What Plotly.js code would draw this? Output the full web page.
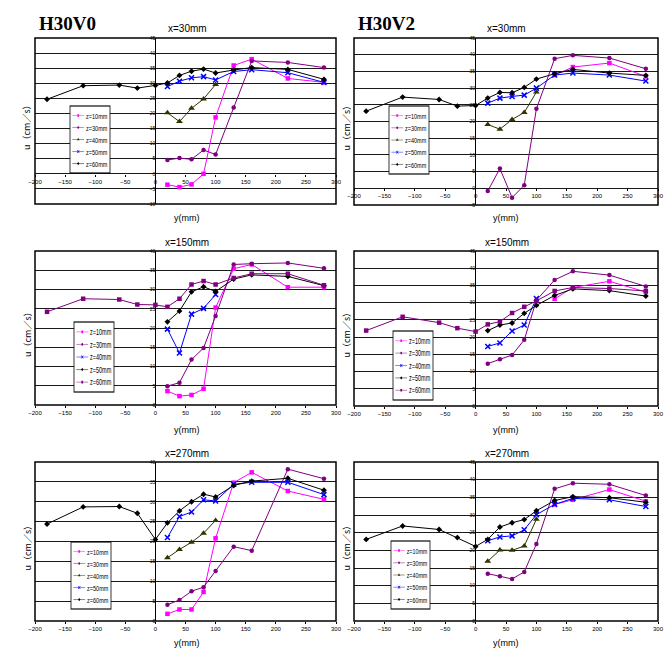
<!DOCTYPE html>
<html>
<head>
<meta charset="utf-8">
<script src="https://cdn.plot.ly/plotly-3.0.1.min.js"></script>
<style>html,body{margin:0;padding:0;background:#fff;}#chart{width:664px;height:648px;}</style>
</head>
<body>
<div id="chart"></div>
<script>
// ---- data ----
const yPosFull = [-180, -120, -60, -30, 0, 20, 40, 60, 80, 100, 130, 160, 220, 280];
const yPos = [20, 40, 60, 80, 100, 130, 160, 220, 280];
const yPosShort = [20, 40, 60, 80, 100];
const yPosTail = [130, 160, 220, 280];
const seriesNames = ["z=10mm", "z=30mm", "z=40mm", "z=50mm", "z=60mm"];
const panelTitles = ["x=30mm", "x=30mm", "x=150mm", "x=150mm", "x=270mm", "x=270mm"];
const caseLabels = ["H30V0", "H30V2"];

// H30V0, x=30mm
const v0x30_z10 = [-3.6, -4.4, -3.5, 0, 18.7, 35.9, 38.0, 31.6, 30.3];
const v0x30_z30 = [4.6, 5.2, 4.8, 7.9, 6.4, 22.0, 37.4, 36.9, 35.2];
const v0x30_z40 = [20.2, 17.3, 21.7, 24.8, 29.6];
const v0x30_z50 = [28.9, 30.7, 31.8, 32.2, 31.1, 33.9, 34.5, 33.5, 30.3];
const v0x30_z60 = [24.7, 29.2, 29.4, 28.4, 29.3, 30.1, 32.6, 34.0, 34.7, 33.4, 34.4, 35.2, 34.6, 31.3];
// H30V2, x=30mm
const v2x30_z10 = [33.9, 36.3, 37.5, 33.5];
const v2x30_z30 = [-0.8, 5.9, -2.8, 0.9, 23.8, 38.8, 39.8, 39.0, 35.8];
const v2x30_z40 = [19.1, 17.7, 20.6, 22.7, 28.8];
const v2x30_z50 = [25.5, 27.0, 27.5, 27.9, 30.0, 33.9, 34.5, 33.9, 32.1];
const v2x30_z60 = [23.1, 27.3, 26.6, 24.6, 24.8, 27.0, 28.7, 28.6, 30.2, 32.7, 34.3, 35.6, 34.5, 33.8];
// H30V0, x=150mm
const v0x150_z10 = [3.6, 2.3, 2.6, 4.2, 25.3, 35.4, 36.5, 30.6, 30.6];
const v0x150_z30 = [4.9, 5.8, 11.8, 14.8, 23.1, 36.5, 36.7, 36.9, 35.5];
const v0x150_z40 = [19.7, 13.5, 23.6, 25.1, 28.7];
const v0x150_z50 = [21.6, 24.4, 29.4, 30.7, 29.5, 32.7, 33.8, 33.4, 31.0];
const v0x150_z60 = [24.2, 27.6, 27.4, 26.1, 26.0, 25.5, 27.6, 31.3, 32.2, 31.3, 33.0, 34.1, 34.1, 31.1];
// H30V2, x=150mm
const v2x150_z10 = [31.1, 34.4, 36.2, 33.1];
const v2x150_z30 = [12.3, 13.6, 14.8, 19.2, 30.7, 36.6, 39.1, 38.0, 34.7];
const v2x150_z40 = [17.3, 18.3, 21.8, 23.5, 31.2];
const v2x150_z50 = [21.9, 23.5, 24.1, 26.9, 29.2, 32.1, 34.0, 33.5, 31.9];
const v2x150_z60 = [21.9, 25.9, 24.2, 22.6, 21.6, 23.7, 24.5, 27.0, 28.8, 30.5, 33.4, 34.4, 34.1, 33.4];
// H30V0, x=270mm
const v0x270_z10 = [1.8, 2.9, 2.9, 7.3, 20.8, 34.8, 37.4, 32.7, 30.6];
const v0x270_z30 = [4.1, 5.3, 7.5, 8.5, 12.6, 18.7, 17.7, 38.2, 35.8];
const v0x270_z40 = [15.9, 18.0, 19.8, 22.1, 25.3];
const v0x270_z50 = [21.0, 26.3, 27.4, 30.5, 30.2, 34.4, 34.9, 34.9, 31.8];
const v0x270_z60 = [24.4, 28.7, 28.8, 27.1, 20.5, 24.7, 27.7, 30.0, 31.9, 31.2, 34.1, 35.2, 35.9, 32.9];
// H30V2, x=270mm
const v2x270_z10 = [33.0, 34.3, 37.2, 33.9];
const v2x270_z30 = [13.4, 12.7, 11.9, 13.9, 21.8, 37.4, 39.0, 38.7, 35.5];
const v2x270_z40 = [16.9, 20.1, 20.0, 21.2, 28.8];
const v2x270_z50 = [22.7, 23.8, 24.1, 25.8, 30.1, 33.0, 34.7, 34.3, 32.4];
const v2x270_z60 = [23.1, 26.9, 25.9, 23.6, 21.1, 23.1, 26.6, 27.8, 28.7, 31.2, 34.1, 35.2, 34.9, 33.6];

// ---- styles ----
const W = 664, H = 648;
const MAG = {color: "#ff00ff", symbol: "square"};
const PUR = {color: "#800080", symbol: "circle"};
const OLI = {color: "#333300", symbol: "triangle-up"};
const BLU = {color: "#0000ff", symbol: "x-thin"};
const BLK = {color: "#000000", symbol: "diamond"};
const PUR2 = {color: "#800080", symbol: "square"};

const panels = [
  {x: [35, 336], y: [38, 204], range: [-10, 45], zeroY: 174, zeroX: 155.4, legendBox: [70, 106, 40, 67],
   series: [[yPos, v0x30_z10, MAG], [yPos, v0x30_z30, PUR], [yPosShort, v0x30_z40, OLI], [yPos, v0x30_z50, BLU], [yPosFull, v0x30_z60, BLK]]},
  {x: [354, 658], y: [38, 205], range: [-5, 45], zeroY: 188, zeroX: 475, legendBox: [389, 106, 40, 68],
   series: [[yPosTail, v2x30_z10, MAG], [yPos, v2x30_z30, PUR], [yPosShort, v2x30_z40, OLI], [yPos, v2x30_z50, BLU], [yPosFull, v2x30_z60, BLK]]},
  {x: [35, 336], y: [251, 405], range: [0, 40], zeroY: 405, zeroX: 155.4, legendBox: [74, 322, 40, 70],
   series: [[yPos, v0x150_z10, MAG], [yPos, v0x150_z30, PUR], [yPosShort, v0x150_z40, BLU], [yPos, v0x150_z50, BLK], [yPosFull, v0x150_z60, PUR2]]},
  {x: [354, 658], y: [251, 406], range: [0, 45], zeroY: 406, zeroX: 475, legendBox: [393, 331, 40, 69],
   series: [[yPosTail, v2x150_z10, MAG], [yPos, v2x150_z30, PUR], [yPosShort, v2x150_z40, BLU], [yPos, v2x150_z50, BLK], [yPosFull, v2x150_z60, PUR2]]},
  {x: [35, 336], y: [462, 621], range: [0, 40], zeroY: 621, zeroX: 155.4, legendBox: [71, 542, 40, 67],
   series: [[yPos, v0x270_z10, MAG], [yPos, v0x270_z30, PUR], [yPosShort, v0x270_z40, OLI], [yPos, v0x270_z50, BLU], [yPosFull, v0x270_z60, BLK]]},
  {x: [354, 658], y: [462, 621], range: [0, 45], zeroY: 621, zeroX: 475, legendBox: [391, 541, 39, 68],
   series: [[yPosTail, v2x270_z10, MAG], [yPos, v2x270_z30, PUR], [yPosShort, v2x270_z40, OLI], [yPos, v2x270_z50, BLU], [yPosFull, v2x270_z60, BLK]]}
];

const FONT = "Liberation Sans Narrow, Liberation Sans, Arial, sans-serif";
const px2x = p => p / W;
const px2y = p => 1 - p / H;

const traces = [];
const layout = {
  width: W, height: H,
  margin: {l: 0, r: 0, t: 0, b: 0},
  paper_bgcolor: "#ffffff", plot_bgcolor: "#ffffff",
  font: {family: FONT, color: "#000"},
  showlegend: true,
  shapes: [], annotations: []
};

panels.forEach((p, i) => {
  const n = i + 1;
  const xa = n === 1 ? "x" : "x" + n;
  const ya = n === 1 ? "y" : "y" + n;
  const lg = n === 1 ? "legend" : "legend" + n;
  p.series.forEach((s, k) => {
    const st = s[2];
    traces.push({
      type: "scatter", mode: "lines+markers",
      x: s[0], y: s[1], name: seriesNames[k],
      xaxis: xa, yaxis: ya, legend: lg,
      line: {color: st.color, width: 1},
      marker: {symbol: st.symbol, size: st.symbol === "x-thin" ? 5 : (st.symbol === "triangle-up" ? 6 : 4.5),
               color: st.color, line: {color: st.color, width: st.symbol === "x-thin" ? 1.5 : 0}},
      cliponaxis: false
    });
  });
  layout["xaxis" + (n === 1 ? "" : n)] = {
    domain: [px2x(p.x[0]), px2x(p.x[1])],
    range: [-200, 300], dtick: 50, tick0: 0,
    anchor: "free", position: px2y(p.zeroY),
    showgrid: false, zeroline: true, zerolinecolor: "#000", zerolinewidth: 1.5,
    showline: false, ticks: "outside", ticklen: 2, tickcolor: "#000",
    tickfont: {size: 6, family: FONT}, fixedrange: true
  };
  layout["yaxis" + (n === 1 ? "" : n)] = {
    domain: [px2y(p.y[1]), px2y(p.y[0])],
    range: p.range, dtick: 5, tick0: 0,
    anchor: "free", position: px2x(p.zeroX),
    showgrid: true, gridcolor: "#1a1a1a", gridwidth: 1,
    zeroline: false, showline: false, ticks: "",
    tickfont: {size: 5, family: FONT}, fixedrange: true
  };
  layout.shapes.push({type: "rect", xref: xa + " domain", yref: ya + " domain",
    x0: 0, x1: 1, y0: 0, y1: 1, line: {color: "#000", width: 1.5}, layer: "above"});
  // initial legend placement stays inside the page (final size/position set after render)
  layout[lg] = {
    x: px2x(p.legendBox[0]), y: px2y(p.y[0]), xanchor: "left", yanchor: "top",
    bgcolor: "#ffffff", bordercolor: "#000", borderwidth: 2,
    font: {size: 14, family: FONT}, itemwidth: 30, tracegroupgap: 0
  };
  layout.annotations.push({xref: "paper", yref: "paper", x: px2x(n % 2 ? 187 : 507), y: px2y(p.y[0] - 9),
    text: panelTitles[i], showarrow: false, font: {size: 10, family: FONT}, xanchor: "center", yanchor: "middle"});
  layout.annotations.push({xref: "paper", yref: "paper", x: px2x(n % 2 ? 187 : 506),
    y: px2y(i < 2 ? 218 : (i < 4 ? 430 : 643)),
    text: "y(mm)", showarrow: false, font: {size: 9, family: FONT}, xanchor: "center", yanchor: "middle"});
  layout.annotations.push({xref: "paper", yref: "paper", x: px2x(n % 2 ? 27 : 346),
    y: px2y((p.y[0] + p.y[1]) / 2 + 4),
    text: "u（cm／s）", textangle: -90, showarrow: false,
    font: {size: 9, family: "Noto Sans CJK JP, " + FONT}, xanchor: "center", yanchor: "middle"});
});

layout.annotations.push({xref: "paper", yref: "paper", x: px2x(67), y: px2y(23), text: caseLabels[0],
  showarrow: false, font: {size: 19, family: "Liberation Serif, Times New Roman, serif", weight: "bold"}, xanchor: "center", yanchor: "middle"});
layout.annotations.push({xref: "paper", yref: "paper", x: px2x(386), y: px2y(23), text: caseLabels[1],
  showarrow: false, font: {size: 19, family: "Liberation Serif, Times New Roman, serif", weight: "bold"}, xanchor: "center", yanchor: "middle"});

Plotly.newPlot("chart", traces, layout, {staticPlot: true, displayModeBar: false}).then(gd => {
  // compact the legend boxes to the small Excel-style size of the original
  panels.forEach((p, i) => {
    const id = i === 0 ? "legend" : "legend" + (i + 1);
    const g = gd.querySelector("g." + id);
    if (!g) return;
    const bg = g.querySelector("rect.bg") || g;
    const bb = bg.getBBox();
    const [L, T, Wd, Ht] = p.legendBox;
    const sx = Wd / bb.width, sy = Ht / bb.height;
    g.setAttribute("transform", `translate(${L - bb.x * sx},${T - bb.y * sy}) scale(${sx},${sy})`);
  });
});
</script>
</body>
</html>
